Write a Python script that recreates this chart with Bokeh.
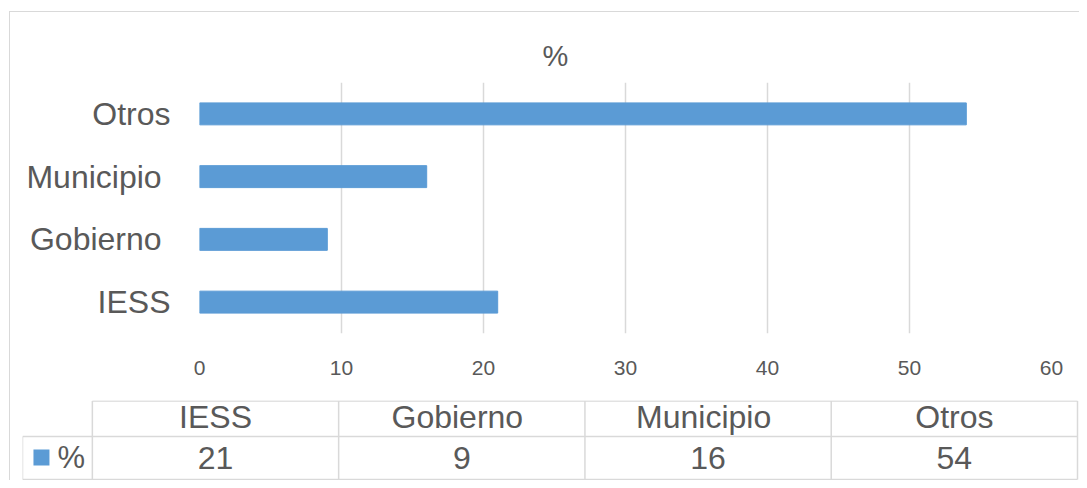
from bokeh.plotting import figure
from bokeh.models import ColumnDataSource, FactorRange, Range1d, FixedTicker
from bokeh.layouts import column, row
from bokeh.core.properties import value
from bokeh.embed import file_html
from bokeh.resources import INLINE

# ---- data ----
categories = ["IESS", "Gobierno ", "Municipio ", "Otros"]
values = [21, 9, 16, 54]
series_name = "%"
x_ticks = [0, 10, 20, 30, 40, 50, 60]

FONT = "Liberation Sans"
TXT = "#595959"
BAR = "#5B9BD5"
GRID = "#D9D9D9"

# ---- chart ----
src = ColumnDataSource(dict(cat=categories, val=values))
p1 = figure(width=1069, height=388,
            y_range=FactorRange(*categories),
            x_range=Range1d(x_ticks[0], x_ticks[-1]),
            output_backend="svg", toolbar_location=None,
            min_border_left=189, min_border_right=28,
            min_border_top=70, min_border_bottom=67)
p1.outline_line_color = None
p1.background_fill_color = "white"
p1.border_fill_color = "white"
p1.hbar(y="cat", right="val", left=0, height=0.35, color=BAR, source=src)

p1.title.text = series_name
p1.title.align = "left"
p1.title.offset = 343
p1.title.standoff = 22
p1.title.text_font = FONT
p1.title.text_font_size = "29px"
p1.title.text_font_style = "normal"
p1.title.text_color = TXT

p1.xaxis.ticker = FixedTicker(ticks=x_ticks)
p1.ygrid.grid_line_color = None
p1.xgrid.grid_line_color = GRID
p1.xgrid.grid_line_width = 1.5
for ax in (p1.xaxis[0], p1.yaxis[0]):
    ax.axis_line_color = None
    ax.major_tick_line_color = None
    ax.minor_tick_line_color = None
    ax.major_tick_out = 0
    ax.major_tick_in = 0
    ax.major_label_text_font = FONT
    ax.major_label_text_color = TXT
p1.xaxis.major_label_text_font_size = "21px"
p1.xaxis.major_label_standoff = 27
p1.yaxis.major_label_text_font_size = "32px"
p1.yaxis.major_label_standoff = 29

# ---- data table ----
COLW = 246.75
LEFTW = 70.0
n = len(categories)
L = LEFTW / COLW
p2 = figure(width=1069, height=80,
            x_range=Range1d(-L, n + 2 / COLW), y_range=Range1d(80, 0),
            min_border_left=12, min_border_right=0,
            min_border_top=0, min_border_bottom=0,
            x_axis_type=None, y_axis_type=None,
            output_backend="svg", toolbar_location=None)
p2.outline_line_color = None
p2.grid.visible = False

HEAD_TOP, ROW_SPLIT, ROW_BOTTOM = 0.5, 36, 79
x0 = [0, -L, -L, -L] + [float(i) for i in range(n + 1)]
x1 = [n, n, n, -L] + [float(i) for i in range(n + 1)]
y0 = [HEAD_TOP, ROW_SPLIT, ROW_BOTTOM, ROW_SPLIT] + [HEAD_TOP] * (n + 1)
y1 = [HEAD_TOP, ROW_SPLIT, ROW_BOTTOM, ROW_BOTTOM] + [ROW_BOTTOM] * (n + 1)
p2.segment(x0=x0, y0=y0, x1=x1, y1=y1, line_color=GRID, line_width=1.5)

cx = [i + 0.5 for i in range(n)]
p2.text(x=cx, y=[16.5] * n, text=categories, text_align="center",
        text_baseline="middle", text_font=value(FONT),
        text_font_size="32px", text_color=TXT)
p2.text(x=cx, y=[57] * n, text=[str(v) for v in values], text_align="center",
        text_baseline="middle", text_font=value(FONT),
        text_font_size="32px", text_color=TXT)
p2.rect(x=[-(92 - 41) / COLW], y=[57], width=16, height=16,
        width_units="screen", height_units="screen",
        fill_color=BAR, line_color=None)
p2.text(x=[-(92 - 57) / COLW], y=[57], text=[series_name], text_align="left",
        text_baseline="middle", text_font=value(FONT),
        text_font_size="31px", text_color=TXT)

layout = column(p1, row(p2), spacing=0, margin=(11, 0, 0, 9),
                styles={"border-top": "1px solid #d9d9d9",
                        "border-left": "1px solid #d9d9d9"})

open("out.html", "w").write(file_html(layout, INLINE))
